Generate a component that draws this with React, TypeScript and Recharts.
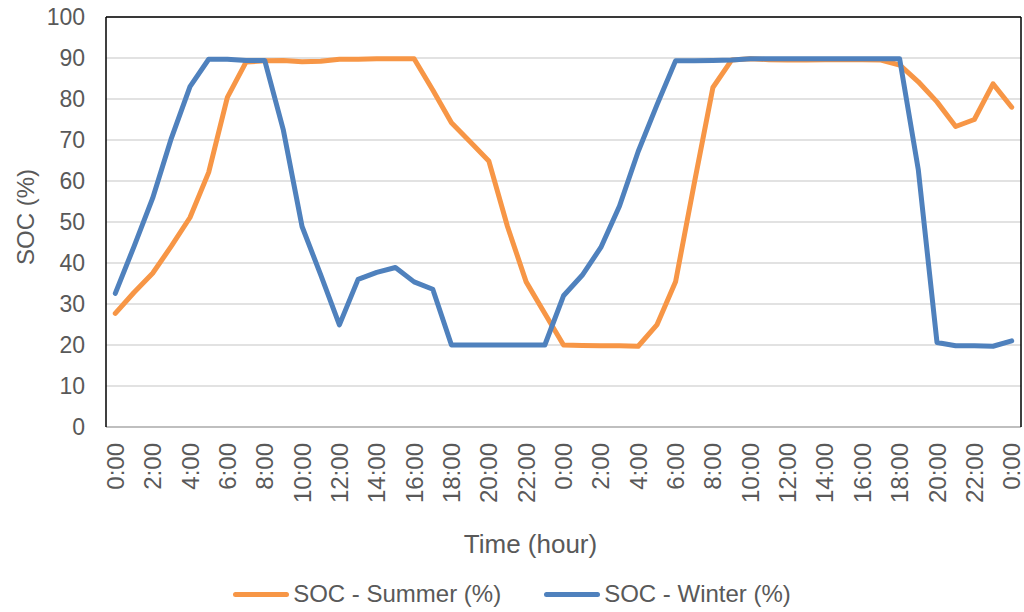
import React from "react";
import { LineChart, Line, XAxis, YAxis, CartesianGrid, Legend, ReferenceLine } from "recharts";

// hour labels, two days plus the closing midnight
const hours = [
  "0:00", "1:00", "2:00", "3:00", "4:00", "5:00", "6:00", "7:00", "8:00", "9:00", "10:00", "11:00",
  "12:00", "13:00", "14:00", "15:00", "16:00", "17:00", "18:00", "19:00", "20:00", "21:00", "22:00", "23:00",
  "0:00", "1:00", "2:00", "3:00", "4:00", "5:00", "6:00", "7:00", "8:00", "9:00", "10:00", "11:00",
  "12:00", "13:00", "14:00", "15:00", "16:00", "17:00", "18:00", "19:00", "20:00", "21:00", "22:00", "23:00",
  "0:00",
];

const socSummer = [
  27.7, 32.8, 37.5, 44.1, 51.1, 62.1, 80.4, 89.0, 89.3, 89.4, 89.1, 89.2,
  89.7, 89.7, 89.8, 89.8, 89.8, 82.2, 74.2, 69.6, 64.9, 48.9, 35.4, 27.7,
  20.0, 19.9, 19.8, 19.8, 19.7, 24.9, 35.4, 59.4, 82.8, 89.5, 89.8, 89.6,
  89.5, 89.5, 89.6, 89.6, 89.6, 89.5, 88.3, 84.2, 79.3, 73.3, 75.0, 83.7,
  78.0,
];

const socWinter = [
  32.6, 44.0, 55.8, 70.4, 83.0, 89.7, 89.7, 89.4, 89.4, 72.4, 48.9, 37.1,
  24.9, 36.0, 37.7, 38.9, 35.4, 33.6, 20.0, 20.0, 20.0, 20.0, 20.0, 20.0,
  32.0, 37.0, 43.8, 53.9, 67.2, 78.5, 89.3, 89.3, 89.4, 89.5, 89.8, 89.8,
  89.8, 89.8, 89.8, 89.8, 89.8, 89.8, 89.8, 62.7, 20.6, 19.8, 19.8, 19.7,
  21.0,
];

const yTicks = [0, 10, 20, 30, 40, 50, 60, 70, 80, 90, 100];

const data = hours.map((h, i) => ({ name: h, summer: socSummer[i], winter: socWinter[i] }));

const FONT = "'Liberation Sans', Arial, sans-serif";
const TEXT = "#595959";
const ORANGE = "#F79646";
const BLUE = "#4F81BD";

function HourTick(props: any) {
  const { x, y, payload } = props;
  const ty = y + 16;
  return (
    <text
      x={x}
      y={ty}
      transform={`rotate(-90 ${x} ${ty})`}
      textAnchor="end"
      dominantBaseline="central"
      fill={TEXT}
      fontSize={24}
      fontFamily={FONT}
    >
      {payload.value}
    </text>
  );
}

function YTitle(props: any) {
  const { viewBox } = props;
  const x = viewBox.x + 25;
  const y = viewBox.y + viewBox.height / 2 - 5;
  return (
    <text x={x} y={y} transform={`rotate(-90 ${x} ${y})`} textAnchor="middle" dominantBaseline="central"
      fill={TEXT} fontSize={24} fontFamily={FONT}>
      SOC (%)
    </text>
  );
}

function XTitle(props: any) {
  const { viewBox } = props;
  const x = viewBox.x + viewBox.width / 2 - 33;
  return (
    <text x={x} y={553} textAnchor="middle" fill={TEXT} fontSize={26} fontFamily={FONT}>
      Time (hour)
    </text>
  );
}

function ChartLegend() {
  const items = [
    { label: "SOC - Summer (%)", color: ORANGE },
    { label: "SOC - Winter (%)", color: BLUE },
  ];
  return (
    <div style={{ display: "flex", justifyContent: "center", gap: 43, fontFamily: FONT, fontSize: 24, color: TEXT }}>
      {items.map((it) => (
        <div key={it.label} style={{ display: "flex", alignItems: "center" }}>
          <span style={{ display: "inline-block", width: 56, height: 5, borderRadius: 3, background: it.color, marginRight: 4 }} />
          <span>{it.label}</span>
        </div>
      ))}
    </div>
  );
}

export default function App() {
  return (
    <div style={{ position: "absolute", left: 0, top: 0, width: 1024, height: 612, background: "#fff" }}>
      <LineChart width={1024} height={612} data={data} margin={{ top: 17, right: 0, bottom: 0, left: 0 }}>
        <CartesianGrid vertical={false} stroke="#D9D9D9" strokeWidth={1.5} />
        <XAxis
          dataKey="name"
          interval={1}
          tick={<HourTick />}
          tickLine={false}
          tickSize={0}
          tickMargin={0}
          height={153}
          padding={{ left: 9.3, right: 9.3 }}
          axisLine={{ stroke: "#BFBFBF", strokeWidth: 2 }}
          label={<XTitle />}
        />
        <YAxis
          domain={[0, 100]}
          ticks={yTicks}
          width={106}
          tickLine={false}
          tickSize={0}
          tickMargin={21}
          axisLine={{ stroke: "#000", strokeWidth: 1.5 }}
          tick={{ fill: TEXT, fontSize: 23, fontFamily: FONT }}
          label={<YTitle />}
        />
        <YAxis
          yAxisId="right"
          orientation="right"
          width={3}
          tick={false}
          tickLine={false}
          axisLine={{ stroke: "#000", strokeWidth: 1.5 }}
        />
        <ReferenceLine y={100} stroke="#000" strokeWidth={1.5} />
        <Legend verticalAlign="bottom" height={32} content={<ChartLegend />} />
        <Line dataKey="summer" name="SOC - Summer (%)" stroke={ORANGE} strokeWidth={5} dot={false} isAnimationActive={false} strokeLinejoin="round" strokeLinecap="round" />
        <Line dataKey="winter" name="SOC - Winter (%)" stroke={BLUE} strokeWidth={5} dot={false} isAnimationActive={false} strokeLinejoin="round" strokeLinecap="round" />
      </LineChart>
    </div>
  );
}
